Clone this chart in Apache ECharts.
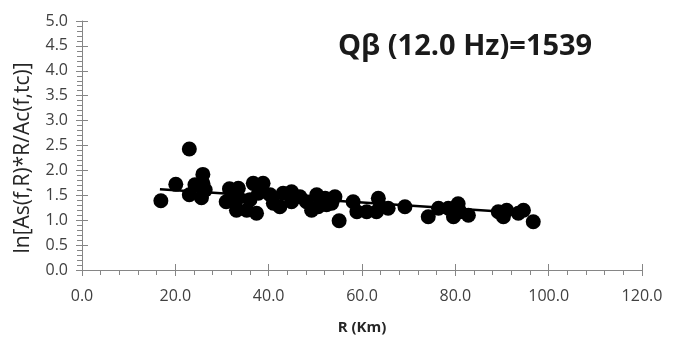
<!DOCTYPE html>
<html>
<head>
<meta charset="utf-8">
<script src="https://cdn.jsdelivr.net/npm/echarts@6/dist/echarts.min.js"></script>
<style>
  html, body { margin: 0; padding: 0; background: #fff; }
  #chart { width: 685px; height: 337px; }
</style>
</head>
<body>
<div id="chart"></div>
<script>
// Hypocentral distance R (km) of each record
const distanceKm = [
  16.9, 20.1, 23.0, 23.0, 24.2, 25.9, 25.9, 26.4, 25.6, 31.6, 30.9, 33.1,
  33.5, 33.5, 32.8, 36.7, 38.8, 37.8, 35.3, 37.4, 36.0, 40.3, 41.0, 43.1,
  42.4, 44.9, 44.9, 46.7, 48.1, 50.3, 49.2, 50.6, 52.4, 52.1, 54.2, 53.5,
  55.1, 58.1, 58.9, 61.0, 63.5, 63.9, 63.1, 65.6, 69.2, 74.2, 76.4, 78.5,
  80.6, 79.6, 81.0, 82.8, 89.2, 90.3, 91.0, 93.5, 94.6, 96.7
];
// ln[As(f,R)*R/Ac(f,tc)] for each record
const lnRatio = [
  1.39, 1.72, 2.43, 1.51, 1.71, 1.92, 1.74, 1.61, 1.45, 1.63, 1.37, 1.20,
  1.45, 1.64, 1.37, 1.74, 1.74, 1.54, 1.20, 1.14, 1.41, 1.51, 1.34, 1.54,
  1.27, 1.57, 1.37, 1.47, 1.37, 1.51, 1.20, 1.27, 1.31, 1.44, 1.47, 1.34,
  0.99, 1.37, 1.17, 1.17, 1.44, 1.27, 1.17, 1.24, 1.27, 1.07, 1.24, 1.24,
  1.33, 1.07, 1.17, 1.10, 1.17, 1.07, 1.20, 1.14, 1.20, 0.97
];
// Least-squares fit line end points
const fitX = [16.7, 95.3];
const fitY = [1.62, 1.14];

const xTicks = { min: 0, max: 120, interval: 20 };
const yTicks = { min: 0, max: 5, interval: 0.5 };
const titleText = 'Q\u03B2 (12.0 Hz)=1539';
const xName = 'R (Km)';
const yName = 'ln[As(f,R)*R/Ac(f,tc)]';

const FONT = 'Open Sans';
const axisColor = '#868686';
const labelColor = '#404040';

const chart = echarts.init(document.getElementById('chart'), null, { renderer: 'canvas' });

const baseX = {
  type: 'value', min: xTicks.min, max: xTicks.max, interval: xTicks.interval,
  splitLine: { show: false }
};
const baseY = {
  type: 'value', min: yTicks.min, max: yTicks.max, interval: yTicks.interval,
  splitLine: { show: false }
};

chart.setOption({
  animation: false,
  backgroundColor: '#fff',
  title: {
    text: titleText,
    left: 333, top: 27,
    textStyle: { fontFamily: FONT, fontSize: 29, fontWeight: 'bold', color: '#1a1a1a' }
  },
  grid: {
    left: 82, right: 43, top: 21, bottom: 67,
    containLabel: false, outerBoundsMode: 'none'
  },
  // vertical axis title, set a little below the axis midpoint
  graphic: [{
    type: 'text',
    x: 23, y: 158,
    rotation: Math.PI / 2,
    style: {
      text: yName,
      fontFamily: FONT, fontSize: 21, fill: '#262626',
      align: 'center', verticalAlign: 'middle'
    }
  }],
  xAxis: [
    Object.assign({}, baseX, {
      name: xName, nameLocation: 'middle', nameGap: 50,
      nameTextStyle: { fontFamily: FONT, fontSize: 15, fontWeight: 'bold', color: '#262626' },
      axisLine: { show: true, lineStyle: { color: axisColor, width: 1 } },
      axisTick: { show: true, inside: false, length: 6, lineStyle: { color: axisColor } },
      minorTick: { show: true, splitNumber: 5, length: 5, lineStyle: { color: axisColor } },
      axisLabel: {
        fontFamily: FONT, fontSize: 16, color: labelColor, margin: 18,
        formatter: v => v.toFixed(1)
      }
    }),
    // inner half of the crossing major ticks
    Object.assign({}, baseX, {
      position: 'bottom',
      axisLine: { show: false },
      axisTick: { show: true, inside: true, length: 6, lineStyle: { color: axisColor } },
      axisLabel: { show: false }
    })
  ],
  yAxis: [
    Object.assign({}, baseY, {
      axisLine: { show: true, lineStyle: { color: axisColor, width: 1 } },
      axisTick: { show: true, inside: false, length: 6, lineStyle: { color: axisColor } },
      minorTick: { show: true, splitNumber: 5, length: 5, lineStyle: { color: axisColor } },
      axisLabel: {
        fontFamily: FONT, fontSize: 16, color: labelColor, margin: 14,
        formatter: v => v.toFixed(1)
      }
    }),
    Object.assign({}, baseY, {
      position: 'left',
      axisLine: { show: false },
      axisTick: { show: true, inside: true, length: 6, lineStyle: { color: axisColor } },
      axisLabel: { show: false }
    })
  ],
  series: [
    {
      type: 'scatter',
      xAxisIndex: 0, yAxisIndex: 0,
      data: distanceKm.map((r, i) => [r, lnRatio[i]]),
      symbol: 'circle',
      symbolSize: 15,
      itemStyle: { color: '#000', opacity: 1 },
      z: 3
    },
    {
      type: 'line',
      xAxisIndex: 0, yAxisIndex: 0,
      data: fitX.map((r, i) => [r, fitY[i]]),
      symbol: 'none',
      lineStyle: { color: '#000', width: 2.5 },
      z: 4
    }
  ]
});
</script>
</body>
</html>
